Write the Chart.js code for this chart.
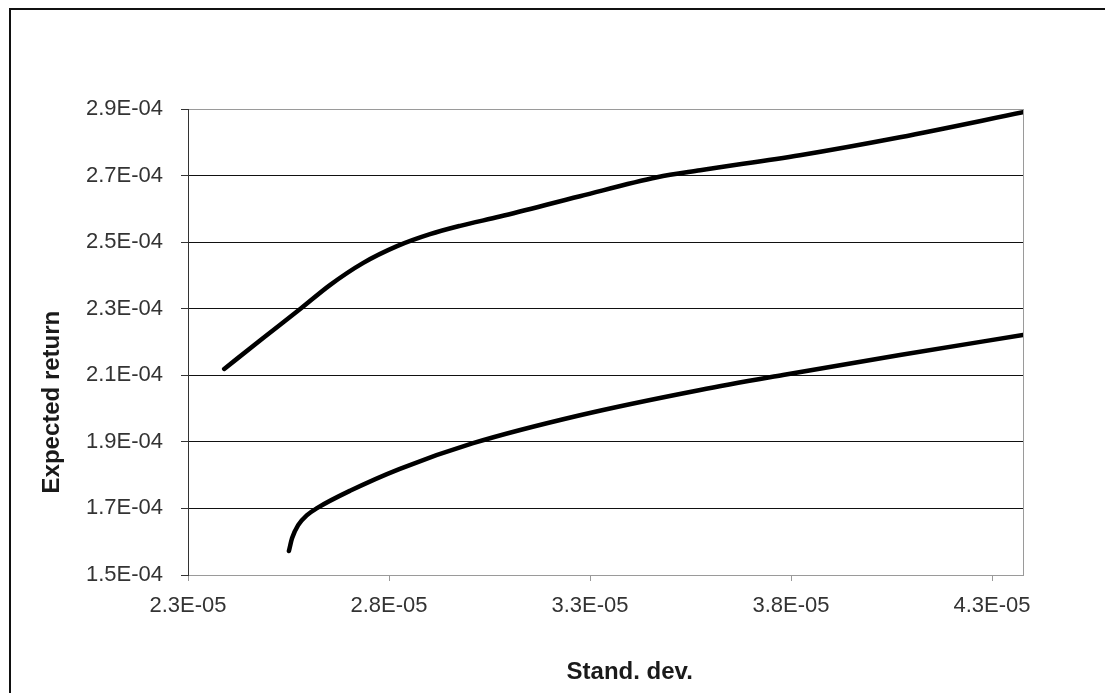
<!DOCTYPE html>
<html>
<head>
<meta charset="utf-8">
<script src="https://cdn.jsdelivr.net/npm/chart.js@4.4.1/dist/chart.umd.min.js"></script>
<style>
  html, body { margin: 0; padding: 0; background: #fff; overflow: hidden; }
  #frame { position: absolute; left: 9px; top: 8px; width: 1200px; height: 800px; border: 2px solid #111; }
  #wrap { position: absolute; left: 0; top: 0; width: 1105px; height: 693px; }
</style>
</head>
<body>
<div id="frame"></div>
<div id="wrap"><canvas id="chart" width="1105" height="693"></canvas></div>
<script>
// efficient frontier
const SD_UPPER = [2.390e-5, 2.487e-5, 2.579e-5, 2.653e-5, 2.735e-5, 2.820e-5, 2.902e-5, 2.977e-5, 3.076e-5, 3.275e-5, 3.467e-5, 3.574e-5, 3.822e-5, 4.071e-5, 4.377e-5]
const RET_UPPER = [2.119e-4, 2.212e-4, 2.299e-4, 2.371e-4, 2.437e-4, 2.488e-4, 2.524e-4, 2.549e-4, 2.577e-4, 2.638e-4, 2.695e-4, 2.716e-4, 2.761e-4, 2.815e-4, 2.890e-4]

const SD_LOWER = [2.551e-5, 2.559e-5, 2.574e-5, 2.596e-5, 2.621e-5, 2.703e-5, 2.827e-5, 3.009e-5, 3.275e-5, 3.574e-5, 3.780e-5, 4.071e-5, 4.377e-5]
const RET_LOWER = [1.572e-4, 1.611e-4, 1.650e-4, 1.680e-4, 1.701e-4, 1.753e-4, 1.819e-4, 1.896e-4, 1.980e-4, 2.056e-4, 2.101e-4, 2.161e-4, 2.221e-4]

const X_TICKS = [2.3e-5, 2.8e-5, 3.3e-5, 3.8e-5, 4.3e-5]
const Y_TICKS = [1.5e-4, 1.7e-4, 1.9e-4, 2.1e-4, 2.3e-4, 2.5e-4, 2.7e-4, 2.9e-4]
const X_MIN = 2.3e-5
const X_MAX = 4.377e-5
const Y_MIN = 1.5e-4
const Y_MAX = 2.9e-4

const X_TITLE = "Stand. dev."
const Y_TITLE = "Expected return"

const FONT = "'Liberation Sans', Arial, sans-serif"
const AXIS_GRAY = "#9a9a9a"

// Excel style 2.9E-04
const sci = (v) => {
  const [m, e] = v.toExponential(1).split("e")
  const n = parseInt(e, 10)
  return m + "E" + (n < 0 ? "-" : "+") + String(Math.abs(n)).padStart(2, "0")
}

const toPoints = (xs, ys) => xs.map((x, i) => ({ x, y: ys[i] }))

const lineStyle = {
  showLine: true,
  borderColor: "#000",
  backgroundColor: "#000",
  borderWidth: 4.5,
  pointRadius: 0,
  cubicInterpolationMode: "monotone",
  borderCapStyle: "round",
  borderJoinStyle: "round",
}

// axis titles are not centred on the plot in the original, so draw them here
const axisTitles = {
  id: "axisTitles",
  afterDraw(chart) {
    const { ctx, chartArea: a } = chart
    ctx.save()
    ctx.fillStyle = "#1a1a1a"
    ctx.font = "bold 24px " + FONT
    ctx.textAlign = "center"
    ctx.textBaseline = "middle"
    ctx.fillText(X_TITLE, a.left + a.width * 0.529, a.bottom + 97)
    ctx.translate(52, a.top + a.height * 0.629)
    ctx.rotate(-Math.PI / 2)
    ctx.fillText(Y_TITLE, 0, 0)
    ctx.restore()
  },
}

const isEdge = (v) => Math.abs(v - Y_MIN) < 1e-9 || Math.abs(v - Y_MAX) < 1e-9

new Chart(document.getElementById("chart"), {
  type: "scatter",
  data: {
    datasets: [
      { label: "upper", data: toPoints(SD_UPPER, RET_UPPER), ...lineStyle },
      { label: "lower", data: toPoints(SD_LOWER, RET_LOWER), ...lineStyle },
    ],
  },
  options: {
    responsive: false,
    animation: false,
    layout: { padding: { top: 109, right: 82, left: 0, bottom: 0 } },
    plugins: {
      legend: { display: false },
      tooltip: { enabled: false },
    },
    scales: {
      x: {
        type: "linear",
        min: X_MIN,
        max: X_MAX,
        afterBuildTicks: (s) => { s.ticks = X_TICKS.map(v => ({ value: v })) },
        afterFit: (s) => { s.height = 118 },
        ticks: {
          color: "#333",
          font: { family: FONT, size: 22 },
          padding: 12,
          maxRotation: 0,
          autoSkip: false,
          callback: (v) => sci(v),
        },
        grid: { drawOnChartArea: false, tickLength: 6, tickColor: AXIS_GRAY },
        border: { color: AXIS_GRAY, width: 1 },
      },
      y: {
        type: "linear",
        min: Y_MIN,
        max: Y_MAX,
        afterBuildTicks: (s) => { s.ticks = Y_TICKS.map(v => ({ value: v })) },
        afterFit: (s) => { s.width = 188 },
        ticks: {
          color: "#333",
          font: { family: FONT, size: 22 },
          padding: 18,
          autoSkip: false,
          callback: (v) => sci(v),
        },
        grid: {
          color: (c) => (c.tick && isEdge(c.tick.value) ? AXIS_GRAY : "#111"),
          tickColor: "#333",
          tickLength: 7,
          lineWidth: 1,
        },
        border: { color: "#333", width: 1 },
      },
      yRight: {
        position: "right",
        ticks: { display: false },
        grid: { display: false },
        border: { color: AXIS_GRAY, width: 1 },
        afterFit: (s) => { s.width = 0 },
      },
    },
  },
  plugins: [axisTitles],
})
</script>
</body>
</html>
